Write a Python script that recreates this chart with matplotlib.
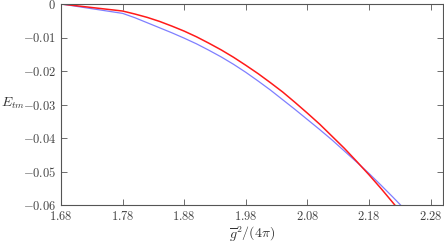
import matplotlib
matplotlib.use("Agg")
import matplotlib.pyplot as plt
from matplotlib.ticker import FuncFormatter

plt.rcParams['mathtext.fontset'] = 'cm'
plt.rcParams['font.family'] = 'DejaVu Serif'

x_red = [1.68, 1.78, 1.80, 1.82, 1.84, 1.86, 1.88, 1.90, 1.92, 1.94, 1.96, 1.98,
         2.00, 2.02, 2.04, 2.06, 2.08, 2.10, 2.12, 2.14, 2.16, 2.18, 2.20, 2.22,
         2.24, 2.26]
y_red = [0.0, -0.0021, -0.0030, -0.0040, -0.0052, -0.0066, -0.0081, -0.0098,
         -0.0117, -0.0137, -0.0159, -0.0183, -0.0208, -0.0235, -0.0263, -0.0294,
         -0.0326, -0.0359, -0.0395, -0.0431, -0.0470, -0.0510, -0.0552, -0.0596,
         -0.0641, -0.0687]
x_blue = [1.68, 1.78, 1.80, 1.82, 1.84, 1.86, 1.88, 1.90, 1.92, 1.94, 1.96, 1.98,
          2.00, 2.02, 2.04, 2.06, 2.08, 2.10, 2.12, 2.14, 2.16, 2.18, 2.20, 2.22,
          2.24, 2.26]
y_blue = [0.0, -0.0028, -0.0041, -0.0056, -0.0071, -0.0086, -0.0102, -0.0119,
          -0.0138, -0.0158, -0.0180, -0.0204, -0.0230, -0.0257, -0.0286, -0.0315,
          -0.0345, -0.0375, -0.0406, -0.0439, -0.0472, -0.0506, -0.0542, -0.0579,
          -0.0617, -0.0656]

xticks = [1.68, 1.78, 1.88, 1.98, 2.08, 2.18, 2.28]
yticks = [0, -0.01, -0.02, -0.03, -0.04, -0.05, -0.06]

fig = plt.figure(figsize=(4.44, 2.42), dpi=100)
ax = fig.add_axes([61/444, 1-205/242, 382/444, 201/242])
ax.plot(x_blue, y_blue, color='#7f7fff', lw=0.9)
ax.plot(x_red, y_red, color='#ff1a1a', lw=1.1)
ax.set_xlim(1.68, 2.30)
ax.set_ylim(-0.06, 0)
ax.set_xticks(xticks)
ax.set_yticks(yticks)

def yfmt(v, p):
    if abs(v) < 1e-12:
        return r'$0$'
    return r'$%.2f$' % v

ax.xaxis.set_major_formatter(FuncFormatter(lambda v, p: r'$%.2f$' % v))
ax.yaxis.set_major_formatter(FuncFormatter(yfmt))
ax.tick_params(direction='in', top=True, right=True, length=4, width=0.6,
               colors='#555555', labelsize=9, labelcolor='#444444')
for s in ax.spines.values():
    s.set_color('#555555')
    s.set_linewidth(0.8)

ax.set_xlabel(r'$\overline{g}^2/(4\pi)$', fontsize=10, color='#333333', labelpad=1)
fig.text(1/444, 1-103/242, r'$E_{tm}$', fontsize=10, color='#333333',
         ha='left', va='center')

fig.savefig('out.png', dpi=100)
